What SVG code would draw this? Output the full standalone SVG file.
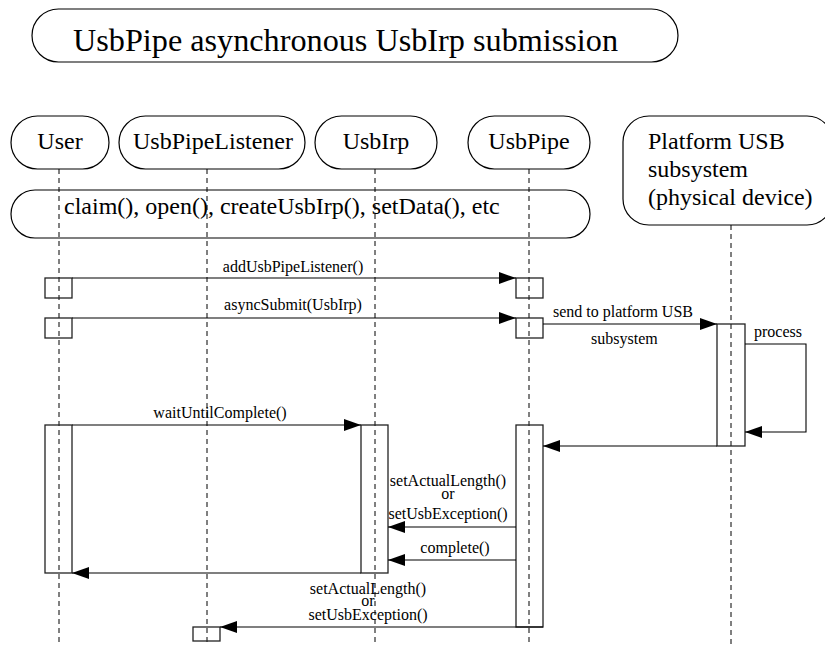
<svg xmlns="http://www.w3.org/2000/svg" width="825" height="645" viewBox="0 0 825 645">
<style>
text{fill:#000;font-family:"Liberation Serif","Times New Roman",serif}
.big{font-size:32px}
.hd{font-size:24px}
.sm{font-size:16px}
.mid{text-anchor:middle}
.head{fill:#fff;stroke:#000;stroke-width:1.2}
.life{stroke:#000;stroke-width:1;stroke-dasharray:5 4;fill:none}
.act{fill:none;stroke:#222;stroke-width:1.3}
.msg{stroke:#000;stroke-width:1.1;fill:none;marker-end:url(#ah)}
</style>
<defs>
<marker id="ah" viewBox="0 0 17 12" refX="17" refY="6" markerWidth="17" markerHeight="12" markerUnits="userSpaceOnUse" orient="auto">
<path d="M0,0 L17,6 L0,12 Z" fill="#000"/>
</marker>
</defs>
<rect width="825" height="645" fill="#fff"/>

<g id="title">
<rect class="head" x="32" y="9" width="646" height="53" rx="26.5"/>
<text class="big" x="73" y="51" textLength="545" lengthAdjust="spacingAndGlyphs">UsbPipe asynchronous UsbIrp submission</text>
</g>

<g id="lifelines">
<line class="life" x1="59" y1="169" x2="59" y2="645"/>
<line class="life" x1="207" y1="169" x2="207" y2="645"/>
<line class="life" x1="375" y1="169" x2="375" y2="645"/>
<line class="life" x1="529" y1="169" x2="529" y2="645"/>
<line class="life" x1="731" y1="225" x2="731" y2="645"/>
</g>

<g id="user">
<rect class="head" x="11" y="116" width="98" height="53" rx="26.5"/>
<text class="hd mid" x="60" y="149">User</text>
</g>
<g id="usbpipelistener">
<rect class="head" x="119" y="116" width="186" height="53" rx="26.5"/>
<text class="hd mid" x="213" y="149">UsbPipeListener</text>
</g>
<g id="usbirp">
<rect class="head" x="315" y="116" width="122" height="53" rx="26.5"/>
<text class="hd mid" x="376" y="149">UsbIrp</text>
</g>
<g id="usbpipe">
<rect class="head" x="468" y="116" width="122" height="53" rx="26.5"/>
<text class="hd mid" x="529" y="149">UsbPipe</text>
</g>
<g id="platform">
<rect class="head" x="623" y="116" width="210" height="109" rx="26"/>
<text class="hd" x="648" y="149">Platform USB</text>
<text class="hd" x="648" y="177">subsystem</text>
<text class="hd" x="648" y="205">(physical device)</text>
</g>

<g id="setup">
<rect x="11" y="190" width="579" height="48" rx="24" fill="none" stroke="#000" stroke-width="1.2"/>
<text class="hd" x="64" y="214">claim(), open(), createUsbIrp(), setData(), etc</text>
</g>

<g id="activations">
<rect class="act" x="45" y="278" width="27" height="20"/>
<rect class="act" x="516" y="278" width="27" height="20"/>
<rect class="act" x="45" y="318" width="27" height="20"/>
<rect class="act" x="516" y="318" width="27" height="20"/>
<rect class="act" x="717" y="324" width="28" height="122"/>
<rect class="act" x="45" y="425" width="27" height="148"/>
<rect class="act" x="361" y="425" width="27" height="148"/>
<rect class="act" x="516" y="425" width="27" height="202"/>
<rect class="act" x="193" y="627" width="27" height="14"/>
</g>

<g id="connectors">
<line class="msg" x1="72" y1="278" x2="516" y2="278"/>
<line class="msg" x1="72" y1="318" x2="516" y2="318"/>
<line class="msg" x1="543" y1="324" x2="717" y2="324"/>
<polyline class="msg" points="745,344 806,344 806,432 745,432"/>
<line class="msg" x1="717" y1="446" x2="543" y2="446"/>
<line class="msg" x1="72" y1="425" x2="361" y2="425"/>
<line class="msg" x1="516" y1="527" x2="388" y2="527"/>
<line class="msg" x1="516" y1="560" x2="388" y2="560"/>
<line class="msg" x1="361" y1="573" x2="72" y2="573"/>
<line class="msg" x1="543" y1="627" x2="220" y2="627"/>
</g>

<g id="labels">
<text class="sm mid" x="293" y="272">addUsbPipeListener()</text>
<text class="sm mid" x="293" y="310">asyncSubmit(UsbIrp)</text>
<text class="sm" x="553" y="317">send to platform USB</text>
<text class="sm" x="591" y="344">subsystem</text>
<text class="sm" x="754" y="337">process</text>
<text class="sm mid" x="220" y="418">waitUntilComplete()</text>
<text class="sm mid" x="448" y="486">setActualLength()</text>
<text class="sm mid" x="448" y="499">or</text>
<text class="sm mid" x="448" y="519">setUsbException()</text>
<text class="sm mid" x="455" y="553">complete()</text>
<text class="sm mid" x="368" y="594">setActualLength()</text>
<text class="sm mid" x="368" y="606">or</text>
<text class="sm mid" x="368" y="620">setUsbException()</text>
</g>
</svg>
